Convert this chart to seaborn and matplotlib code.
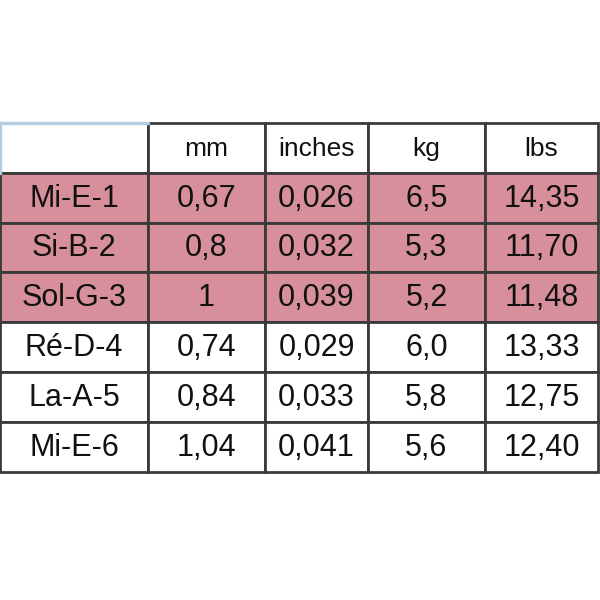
import matplotlib
matplotlib.use("Agg")
import matplotlib.pyplot as plt
import seaborn as sns

sns.set_theme(style="white")
plt.rcParams['font.family'] = ['Liberation Sans', 'DejaVu Sans']

columns = ["", "mm", "inches", "kg", "lbs"]
names = ["Mi-E-1", "Si-B-2", "Sol-G-3", "Ré-D-4", "La-A-5", "Mi-E-6"]
mm = ["0,67", "0,8", "1", "0,74", "0,84", "1,04"]
inches = ["0,026", "0,032", "0,039", "0,029", "0,033", "0,041"]
kg = ["6,5", "5,3", "5,2", "6,0", "5,8", "5,6"]
lbs = ["14,35", "11,70", "11,48", "13,33", "12,75", "12,40"]
highlighted = [True, True, True, False, False, False]

col_edges = [0, 148, 265, 368, 485, 598]
top, row_h = 123, 49.8
pink = "#d68f9b"
line = "#3a3a3a"

fig = plt.figure(figsize=(6, 6), dpi=100)
ax = fig.add_axes([0, 0, 1, 1])
ax.set_xlim(0, 600)
ax.set_ylim(600, 0)
ax.axis("off")

rows = [columns] + [list(r) for r in zip(names, mm, inches, kg, lbs)]
flags = [False] + highlighted
widths = [b - a for a, b in zip(col_edges[:-1], col_edges[1:])]
for i, (row, hl) in enumerate(zip(rows, flags)):
    y0 = top + i * row_h
    ax.bar(col_edges[:-1], [row_h] * 5, width=widths, bottom=y0, align="edge",
           color=pink if hl else "white", edgecolor=line, linewidth=2)
    for j, txt in enumerate(row):
        ax.text((col_edges[j] + col_edges[j + 1]) / 2, y0 + row_h / 2 + 1, txt,
                ha="center", va="center", fontsize=22 if i else 19, color="#111111")

# light border of the empty corner cell
ax.plot([0, 0, col_edges[1]], [top + row_h, top, top], color="#b5cde0", lw=2.5)

fig.savefig("out.png", dpi=100)
